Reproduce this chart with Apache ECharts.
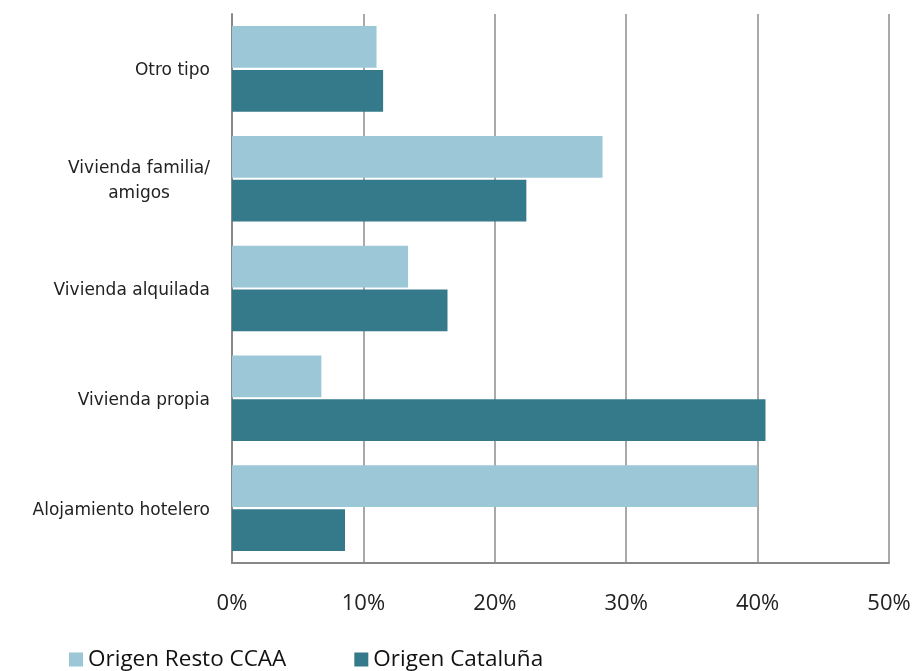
<!DOCTYPE html>
<html>
<head>
<meta charset="utf-8">
<script src="https://cdn.jsdelivr.net/npm/echarts@6/dist/echarts.min.js"></script>
<style>
html,body{margin:0;padding:0;background:#fff;}
#chart{width:917px;height:671px;}
</style>
</head>
<body>
<div id="chart"></div>
<script>
// Categories from bottom to top
var categories = ['Alojamiento hotelero', 'Vivienda propia', 'Vivienda alquilada', 'Vivienda familia/\namigos', 'Otro tipo'];
var seriesNames = ['Origen Resto CCAA', 'Origen Cataluña'];
var restoCCAA = [40.0, 6.8, 13.4, 28.2, 11.0];
var cataluna = [8.6, 40.6, 16.4, 22.4, 11.5];
var xTicks = [0, 10, 20, 30, 40, 50];

var chart = echarts.init(document.getElementById('chart'));
chart.setOption({
  animation: false,
  backgroundColor: '#ffffff',
  grid: { left: 232, right: 28, top: 14, bottom: 108, containLabel: false },
  legend: {
    data: seriesNames,
    left: 64,
    top: 643,
    itemWidth: 14,
    itemHeight: 14,
    itemGap: 68,
    icon: 'rect',
    textStyle: { fontFamily: 'Open Sans', fontSize: 22.5, color: '#111' }
  },
  xAxis: {
    type: 'value',
    min: xTicks[0],
    max: xTicks[xTicks.length - 1],
    interval: 10,
    axisLine: { show: true, lineStyle: { color: '#888', width: 2 } },
    axisTick: { show: false },
    splitLine: { show: true, lineStyle: { color: '#8c8c8c', width: 1.5 } },
    axisLabel: {
      margin: 30,
      fontFamily: 'Open Sans',
      fontSize: 22,
      color: '#222',
      formatter: function (v) { return v + '%'; }
    }
  },
  yAxis: {
    type: 'category',
    data: categories,
    axisLine: { show: true, lineStyle: { color: '#888', width: 2 } },
    axisTick: { show: false },
    axisLabel: {
      margin: 22,
      color: '#222',
      padding: [4, 0, 0, 0],
      formatter: function (v) {
        return v.split('\n').map(function (s) { return '{c|' + s + '}'; }).join('\n');
      },
      rich: { c: { align: 'center', fontFamily: 'DejaVu Sans', fontSize: 17, color: '#222', lineHeight: 25 } }
    }
  },
  series: [
    {
      name: seriesNames[0],
      type: 'bar',
      data: restoCCAA,
      barCategoryGap: '22%',
      barGap: '5%',
      itemStyle: { color: '#9bc7d7' }
    },
    {
      name: seriesNames[1],
      type: 'bar',
      data: cataluna,
      barCategoryGap: '22%',
      barGap: '5%',
      itemStyle: { color: '#347a8a' }
    }
  ]
});
</script>
</body>
</html>
